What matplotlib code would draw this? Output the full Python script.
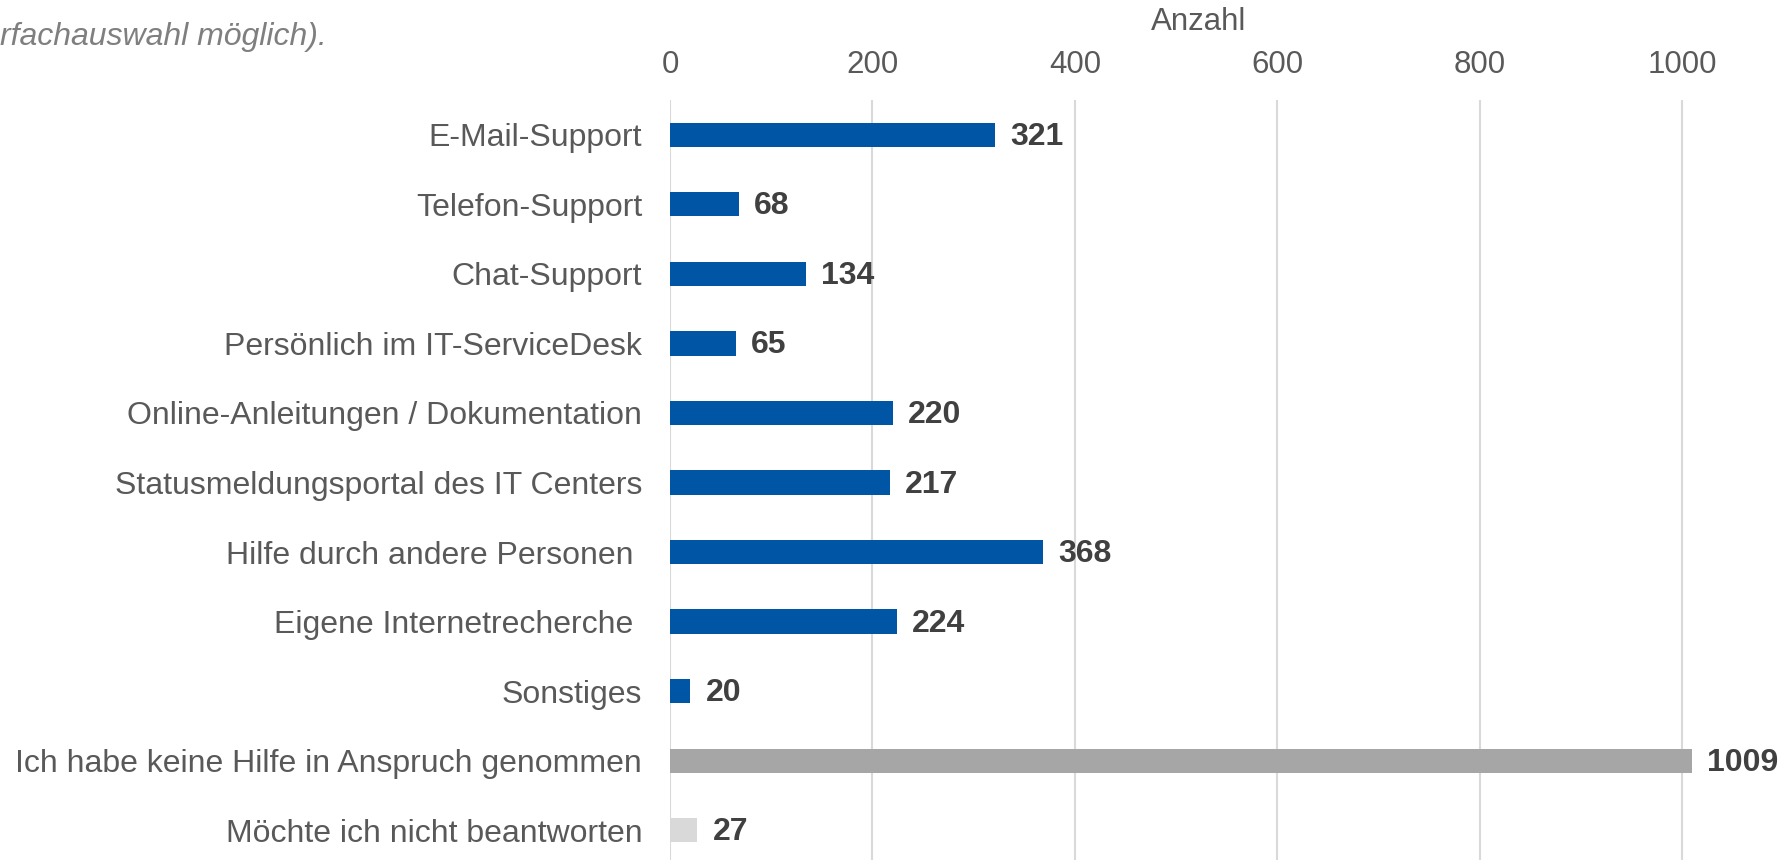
import matplotlib
matplotlib.use("Agg")
import matplotlib.pyplot as plt

plt.rcParams['font.family'] = ['Liberation Sans', 'DejaVu Sans']

categories = [
    "E-Mail-Support",
    "Telefon-Support",
    "Chat-Support",
    "Persönlich im IT-ServiceDesk",
    "Online-Anleitungen / Dokumentation",
    "Statusmeldungsportal des IT Centers",
    "Hilfe durch andere Personen ",
    "Eigene Internetrecherche ",
    "Sonstiges",
    "Ich habe keine Hilfe in Anspruch genommen",
    "Möchte ich nicht beantworten",
]
values = [321, 68, 134, 65, 220, 217, 368, 224, 20, 1009, 27]
bar_colors = ["#0055A4"] * 9 + ["#A6A6A6", "#D9D9D9"]
x_ticks = [0, 200, 400, 600, 800, 1000]

W, H = 1790, 860
fig = plt.figure(figsize=(W / 100, H / 100), dpi=100)

# axes placed in pixel terms
ax_left, ax_right = 670, 1728
ax_top, ax_bottom = 100, 865
ax = fig.add_axes([ax_left / W, 1 - ax_bottom / H,
                   (ax_right - ax_left) / W, (ax_bottom - ax_top) / H])

n = len(categories)
ypos = list(range(n))
ax.barh(ypos, values, height=0.35, color=bar_colors, zorder=3)
ax.set_ylim(n - 0.5, -0.5)
ax.set_xlim(0, 1045)

for y, v in zip(ypos, values):
    ax.annotate(str(v), xy=(v, y), xytext=(11, -1.5), textcoords="offset points",
                ha="left", va="center", fontsize=23, fontweight="bold",
                color="#404040", annotation_clip=False)

ax.set_xticks(x_ticks)
ax.xaxis.tick_top()
ax.xaxis.set_label_position("top")
ax.tick_params(axis="x", length=0, pad=14.5, labelsize=22.5, labelcolor="#595959")
ax.set_xlabel("Anzahl", fontsize=22.5, color="#595959", labelpad=14.5)

ax.set_yticks(ypos)
ax.set_yticklabels(categories)
ax.tick_params(axis="y", length=0, pad=20, labelsize=23, labelcolor="#595959")

ax.grid(axis="x", color="#D9D9D9", linewidth=1.5, zorder=0)
for s in ax.spines.values():
    s.set_visible(False)

fig.text(0, 1 - 37 / H, "rfachauswahl möglich).", fontsize=23, style="italic",
         color="#7F7F7F", ha="left", va="center")

fig.savefig("out.png", dpi=100, facecolor="white")
